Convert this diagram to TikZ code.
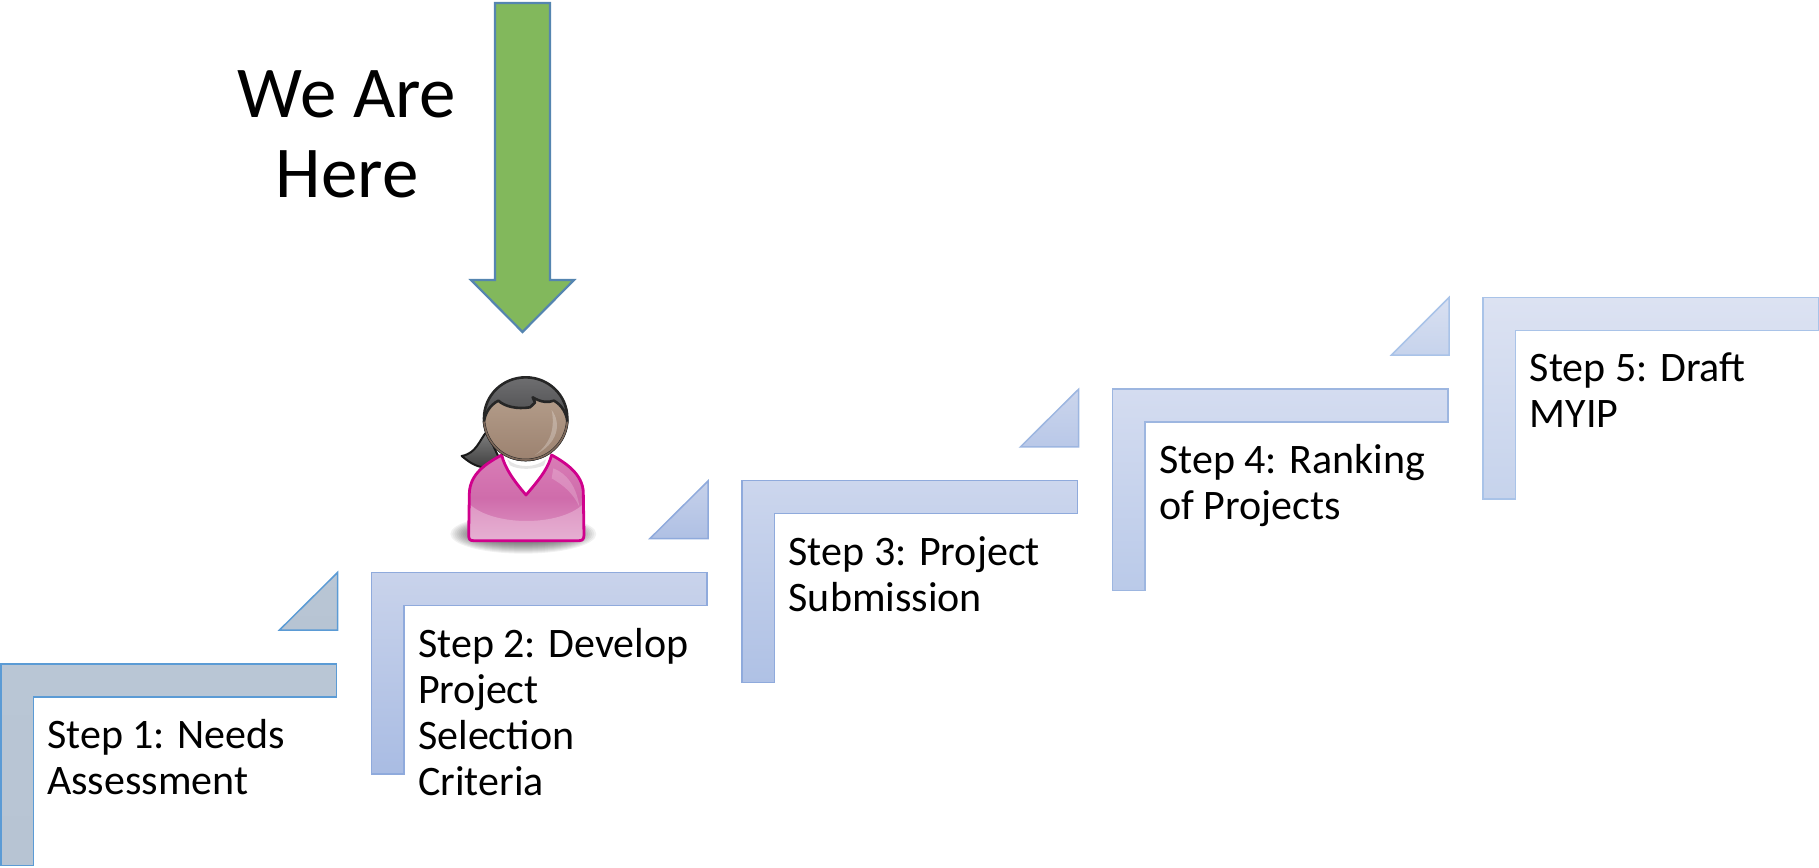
\documentclass[tikz,border=0pt]{standalone}
\usepackage{fontspec}
\setmainfont{Carlito}
\definecolor{armfill}{HTML}{82B85C}
\definecolor{armline}{HTML}{5585B0}
\definecolor{skinA}{HTML}{B39C89}
\definecolor{skinB}{HTML}{9C8270}
\definecolor{pinkline}{HTML}{D0008C}
\definecolor{pinkA}{HTML}{D97DB6}
\definecolor{pinkB}{HTML}{CF6CAB}
\definecolor{pinkC}{HTML}{DE97C4}
\definecolor{pinkD}{HTML}{E6B0D2}
\definecolor{hairA}{HTML}{6E6E70}
\definecolor{hairB}{HTML}{2E2E30}
\definecolor{a1}{HTML}{B9C6D5}\definecolor{b1}{HTML}{B7C4D3}\definecolor{l1}{HTML}{5B9BD5}
\definecolor{a2}{HTML}{C9D3EB}\definecolor{b2}{HTML}{A9BCE3}\definecolor{l2}{HTML}{8FAADC}
\definecolor{a3}{HTML}{C6D1EA}\definecolor{b3}{HTML}{AFC0E4}
\definecolor{a4}{HTML}{CCD6ED}\definecolor{b4}{HTML}{AFC1E5}
\definecolor{a5}{HTML}{CBD5EC}\definecolor{b5}{HTML}{B9C8E8}\definecolor{l5}{HTML}{9DB6E0}
\definecolor{a6}{HTML}{D4DCF0}\definecolor{b6}{HTML}{BACAE9}
\definecolor{a7}{HTML}{D9E0F1}\definecolor{b7}{HTML}{C6D3EC}\definecolor{l7}{HTML}{A9C3E8}
\definecolor{a8}{HTML}{DCE2F2}
\tikzset{
  steplabel/.style={anchor=north west,inner sep=0pt,align=left,text=black,
    font=\fontsize{42}{46}\selectfont,execute at begin node={\rule{0pt}{36pt}}},
  stepshape/.style n args={3}{draw=#3,line width=1.5pt,top color=#1,bottom color=#2},
  bigtext/.style={inner sep=0pt,align=center,text=black,font=\fontsize{73}{80}\selectfont},
}
\begin{document}
\begin{tikzpicture}[x=1pt,y=-1pt]
\useasboundingbox (0,0) rectangle (1819,867);
% steps
\path[stepshape={a1}{b1}{l1}] (1,664) -- (336.5,664) -- (336.5,697) -- (33.5,697) -- (33.5,865.7) -- (1,865.7) -- cycle;
\path[stepshape={a1}{b1}{l1}] (337.5,572.5) -- (337.5,630) -- (279.5,630) -- cycle;
\path[stepshape={a2}{b2}{l2}] (371.5,572.3) -- (707,572.3) -- (707,605.3) -- (404,605.3) -- (404,774) -- (371.5,774) -- cycle;
\path[stepshape={a3}{b3}{l2}] (708,481) -- (708,538.5) -- (650,538.5) -- cycle;
\path[stepshape={a4}{b4}{l2}] (742,480.6) -- (1077.5,480.6) -- (1077.5,513.6) -- (774.5,513.6) -- (774.5,682.3) -- (742,682.3) -- cycle;
\path[stepshape={a5}{b5}{l5}] (1078.5,389.3) -- (1078.5,446.8) -- (1020.5,446.8) -- cycle;
\path[stepshape={a6}{b6}{l5}] (1112.5,389) -- (1448,389) -- (1448,422) -- (1145,422) -- (1145,590.7) -- (1112.5,590.7) -- cycle;
\path[stepshape={a7}{b7}{l7}] (1449,297.5) -- (1449,355) -- (1391.5,355) -- cycle;
\path[stepshape={a8}{b7}{l7}] (1483,297.7) -- (1818.5,297.7) -- (1818.5,330.7) -- (1515.7,330.7) -- (1515.7,499) -- (1483,499) -- cycle;
% labels
\node[steplabel] (s1) at (47,719.5) {Step 1: Needs\\Assessment};
\node[steplabel] (s2) at (418,627.8) {Step 2: Develop\\Project\\Selection\\Criteria};
\node[steplabel] (s3) at (788.5,536.1) {Step 3: Project\\Submission};
\node[steplabel] (s4) at (1159,444.4) {Step 4: Ranking\\of Projects};
\node[steplabel] (s5) at (1529.5,352.7) {Step 5: Draft\\MYIP};
\node[bigtext] (here) at (347,134) {We Are\\Here};
% arrow
\draw[armline,line width=2.2pt,fill=armfill,line join=miter]
  (495,3) -- (550,3) -- (550,280) -- (574,280) -- (522.5,332) -- (471,280) -- (495,280) -- cycle;
% person, in the 3x frame of the crop
\begin{scope}[shift={(420,360)},x=0.3333pt,y=-0.3333pt]
  % shadow: stacked translucent ellipses
  \foreach \k in {1,...,14}{
    \fill[black,opacity=0.055] (310,522) ellipse [x radius={225-6*\k},y radius={62-3*\k}];
  }
  % ponytail
  \draw[black!90,line width=2pt,line join=round,top color=black!50,bottom color=black!75]
    (200,215) .. controls (178,240) and (170,280) .. (125,288) .. controls (140,300) and (160,318) .. (190,322) -- (240,300) -- cycle;
  % collar
  \fill[white] (245,280) -- (395,280) -- (380,340) -- (318,405) -- (260,340) -- cycle;
  \fill[black!10] (262,298) .. controls (290,325) and (345,325) .. (378,298) -- (372,316) .. controls (340,330) and (295,330) .. (270,316) -- cycle;
  % body
  \path[top color=pinkA,bottom color=pinkC,middle color=pinkB]
    (245,285) .. controls (200,310) and (150,340) .. (148,400) -- (146,525) .. controls (146,538) and (150,542) .. (160,542)
    -- (478,542) .. controls (488,542) and (492,536) .. (492,525) -- (490,400) .. controls (490,340) and (430,305) .. (395,285)
    .. controls (385,320) and (370,345) .. (318,405) .. controls (280,360) and (255,325) .. (245,285) -- cycle;
  % gloss on the lower body
  \path[top color=pinkC,bottom color=pinkD]
    (148,432) .. controls (220,500) and (420,500) .. (490,432) -- (492,525) .. controls (492,536) and (488,542) .. (478,542)
    -- (160,542) .. controls (150,542) and (146,538) .. (146,525) -- cycle;
  % shoulder highlight
  \fill[white,opacity=0.2] (400,325) .. controls (440,340) and (470,380) .. (478,440) .. controls (460,400) and (430,375) .. (395,355) -- cycle;
  % body outline
  \draw[pinkline,line width=2.8pt,line join=round]
    (245,285) .. controls (200,310) and (150,340) .. (148,400) -- (146,525) .. controls (146,538) and (150,542) .. (160,542)
    -- (478,542) .. controls (488,542) and (492,536) .. (492,525) -- (490,400) .. controls (490,340) and (430,305) .. (395,285)
    .. controls (385,320) and (370,345) .. (318,405) .. controls (280,360) and (255,325) .. (245,285) -- cycle;
  % hair
  \draw[black!85,line width=2.6pt,top color=hairA,bottom color=hairB]
    (442,175) .. controls (442,106) and (386,52) .. (317,52) .. controls (248,52) and (192,106) .. (192,175)
    .. controls (192,244) and (248,300) .. (317,300) .. controls (386,300) and (442,244) .. (442,175) -- cycle;
  % face
  \draw[black!85,line width=2.6pt,line join=round,top color=skinA,bottom color=skinB]
    (442,185) .. controls (440,160) and (425,135) .. (402,122) .. controls (385,128) and (365,128) .. (338,112)
    -- (345,128) -- (330,142) .. controls (290,148) and (255,140) .. (235,122) .. controls (210,135) and (195,160) .. (192,185)
    .. controls (198,250) and (250,300) .. (317,300) .. controls (384,300) and (436,250) .. (442,185) -- cycle;
  % soft lower edge of the face
  \draw[skinB!80!black,line width=1.6pt]
    (192,185) .. controls (198,250) and (250,300) .. (317,300) .. controls (384,300) and (436,250) .. (442,185);
  % face highlight
  \fill[white,opacity=0.25] (395,150) .. controls (425,190) and (415,250) .. (345,285) .. controls (395,250) and (405,200) .. (395,150) -- cycle;
\end{scope}
\end{tikzpicture}
\end{document}
